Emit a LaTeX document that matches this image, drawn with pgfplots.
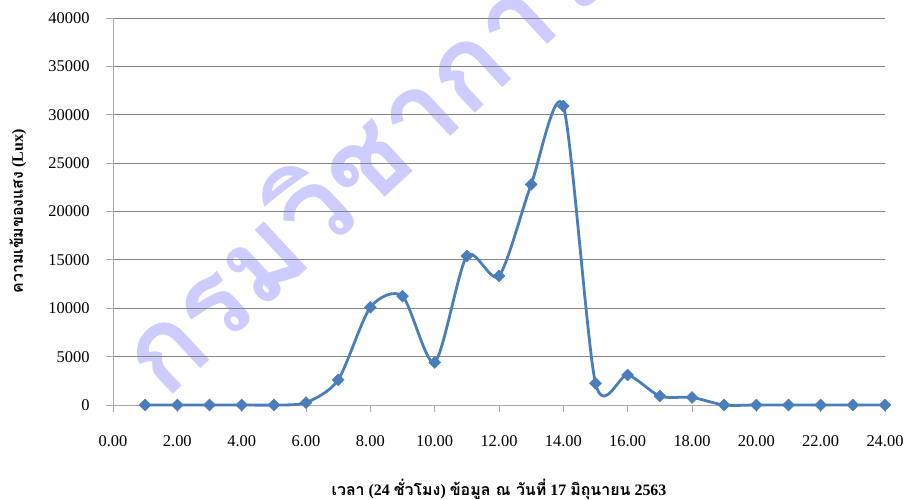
\documentclass[border=0pt]{standalone}
\usepackage{fontspec}
\usepackage{pgfplots}
\pgfplotsset{compat=1.18}
\setmainfont{Liberation Serif}
\newfontfamily\thai[Script=Thai]{Loma}
\newfontfamily\thaiwm[Script=Thai]{Loma}
\definecolor{serie}{RGB}{74,126,187}
\definecolor{wm}{RGB}{204,204,255}
\definecolor{gridc}{RGB}{134,134,134}
\definecolor{axc}{RGB}{170,170,170}
\newcommand{\thx}[1]{{\thai #1}}
\begin{document}
\begin{tikzpicture}
% watermark
\node[rotate=43, anchor=base west, text=wm, inner sep=0pt, font=\thaiwm\bfseries\fontsize{115}{120}\selectfont] at (165bp,-402bp) {กรมวิชาการ};
\begin{axis}[
  at={(113bp,-405bp)}, anchor=south west,
  scale only axis,
  width=772bp, height=387bp,
  xmin=0, xmax=24, ymin=0, ymax=40000,
  xtick={0,2,...,24}, ytick={0,5000,...,40000},
  scaled y ticks=false,
  axis lines*=left,
  axis line style={draw=axc, line width=0.8bp},
  tick style={draw=axc, line width=0.8bp},
  tick align=outside,
  major tick length=7bp,
  ymajorgrids,
  grid style={draw=gridc, line width=0.8bp},
  clip=false,
  /pgf/number format/assume math mode=true,
  tick label style={font=\fontsize{16.5}{18}\selectfont, text=black},
  xticklabel style={/pgf/number format/fixed, /pgf/number format/fixed zerofill, /pgf/number format/precision=2, yshift=-20bp},
  yticklabel style={/pgf/number format/1000 sep={}, xshift=-13bp},
  xlabel style={at={(axis description cs:0.5,0)}, anchor=center, yshift=-84bp},
  ylabel style={at={(axis description cs:0,0.5)}, anchor=center, yshift=95bp},
  xlabel={\bfseries\fontsize{16}{18}\selectfont \thx{เวลา} (24 \thx{ชั่วโมง}) \thx{ข้อมูล ณ วันที่} 17 \thx{มิถุนายน} 2563},
  ylabel={\bfseries\fontsize{16}{18}\selectfont \thx{ความเข้มของแสง} (Lux)},
]
\addplot[color=serie, line width=2.8bp, smooth, tension=0.45, mark=square*, mark size=4.2bp, mark options={rotate=45, fill=serie, draw=serie, line width=0.5bp}] coordinates {
(1,0) (2,0) (3,0) (4,0) (5,0) (6,250) (7,2600) (8,10100) (9,11250) (10,4400)
(11,15400) (12,13350) (13,22800) (14,30900) (15,2250) (16,3100) (17,920) (18,780)
(19,0) (20,0) (21,0) (22,0) (23,0) (24,0)
};
\end{axis}
\pgfresetboundingbox
\path[use as bounding box] (0,0) rectangle (905bp,-500bp);
\end{tikzpicture}
\end{document}
